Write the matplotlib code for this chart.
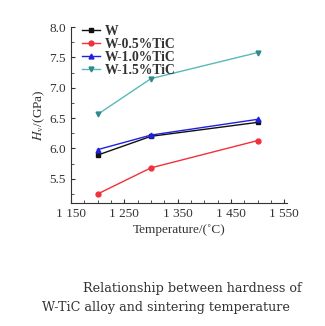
import matplotlib
matplotlib.use('Agg')
import matplotlib.pyplot as plt
from matplotlib.ticker import MultipleLocator

plt.rcParams['font.family'] = ['Liberation Serif', 'DejaVu Serif']
plt.rcParams['mathtext.fontset'] = 'stix'

temps = [1200, 1300, 1500]
hv_w = [5.89, 6.20, 6.43]
hv_05 = [5.25, 5.68, 6.13]
hv_10 = [5.98, 6.22, 6.48]
hv_15 = [6.56, 7.15, 7.58]
labels = ['W', 'W-0.5%TiC', 'W-1.0%TiC', 'W-1.5%TiC']
colors = ['#111111', '#f0303a', '#2020e0', '#2e8b8b']
markers = ['s', 'o', '^', 'v']

fig = plt.figure(figsize=(3.25, 3.26), dpi=100)
ax = fig.add_axes([0.218, 0.377, 0.665, 0.54])

for ys, lab, c, m in zip([hv_w, hv_05, hv_10, hv_15], labels, colors, markers):
    lc = '#5ab8b8' if lab == 'W-1.5%TiC' else c
    ax.plot(temps, ys, color=lc, lw=1.0, marker=m, ms=3.5,
            mfc=c, mec=c, label=lab)

ax.set_xlim(1150, 1555)
ax.set_ylim(5.1, 8.0)
ax.xaxis.set_minor_locator(MultipleLocator(25))
ax.yaxis.set_major_locator(MultipleLocator(0.5))
ax.yaxis.set_minor_locator(MultipleLocator(0.25))
ax.set_xticks([1150, 1250, 1350, 1450, 1550])
ax.set_xticklabels(['1 150', '1 250', '1 350', '1 450', '1 550'])
ax.tick_params(which='both', direction='in', labelsize=9.5, colors='#333333')
ax.tick_params(which='major', length=3)
ax.tick_params(which='minor', length=2)
for s in ['top', 'right']:
    ax.spines[s].set_visible(False)
for s in ['left', 'bottom']:
    ax.spines[s].set_color('#333333')
ax.set_xlabel('Temperature/(˚C)', fontsize=9.5, labelpad=3, color='#333333')
ax.set_ylabel(r'$H_{\mathrm{v}}$/(GPa)', fontsize=9.5, labelpad=2, color='#333333')

leg = ax.legend(loc='upper left', frameon=False, fontsize=9.8, handlelength=1.3,
                handletextpad=0.4, labelspacing=0.0, borderaxespad=0.1,
                bbox_to_anchor=(0.02, 1.05))
for t in leg.get_texts():
    t.set_fontweight('bold')
    t.set_color('#333333')

fig.text(0.255, 0.105, 'Relationship between hardness of', fontsize=9.2,
         color='#333333', family='DejaVu Serif')
fig.text(0.128, 0.047, 'W-TiC alloy and sintering temperature', fontsize=9.2,
         color='#333333', family='DejaVu Serif')

fig.savefig('out.png', dpi=100)
